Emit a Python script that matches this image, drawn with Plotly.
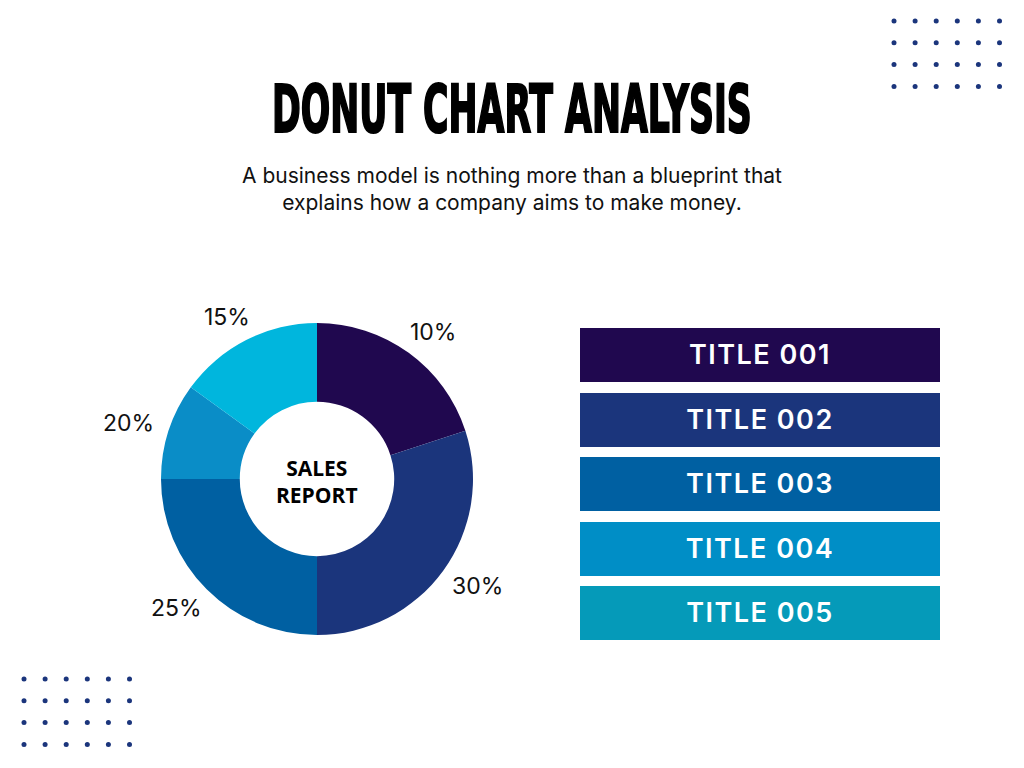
import numpy as np
import plotly.graph_objects as go

# ---------------- data ----------------
slice_names = ["Title 001", "Title 002", "Title 003", "Title 004", "Title 005"]
slice_values = [20, 30, 25, 10, 15]
slice_labels = ["10%", "30%", "25%", "20%", "15%"]
slice_colors = ["#20084f", "#1b357c", "#0060a2", "#0a8dc7", "#00b6dd"]

title_labels = ["TITLE 001", "TITLE 002", "TITLE 003", "TITLE 004", "TITLE 005"]
title_colors = ["#20084f", "#1b357c", "#0060a2", "#008ec6", "#059ab9"]

heading = "DONUT CHART ANALYSIS"
subheading = "A business model is nothing more than a blueprint that<br>explains how a company aims to make money."
center_text = "<b>SALES<br>REPORT</b>"

W, H = 1024, 768
def px(x):
    return x / W
def py(y):
    return 1 - y / H

fig = go.Figure()

# ---------------- donut ----------------
cx, cy, R = 317, 479, 156
fig.add_trace(go.Pie(
    labels=slice_names, values=slice_values, sort=False, direction="clockwise",
    rotation=0, hole=0.495, textinfo="none", hoverinfo="skip",
    marker=dict(colors=slice_colors, line=dict(width=0)),
    domain=dict(x=[px(cx - R), px(cx + R)], y=[py(cy + R), py(cy - R)]),
    showlegend=False,
))

# outside percentage labels at slice mid-angles
total = float(sum(slice_values))
cum = 0.0
label_rx, label_ry = 198, 182
for v, lab in zip(slice_values, slice_labels):
    mid = (cum + v / 2) / total * 2 * np.pi
    cum += v
    lx = cx + label_rx * np.sin(mid)
    ly = cy - label_ry * np.cos(mid)
    fig.add_annotation(x=px(lx), y=py(ly), xref="paper", yref="paper", text=lab,
                       showarrow=False, xanchor="center", yanchor="middle",
                       font=dict(family="Inter, Lato, sans-serif", size=23, color="#111111"))

fig.add_annotation(x=px(cx), y=py(cy + 2), xref="paper", yref="paper", text=center_text,
                   showarrow=False, xanchor="center", yanchor="middle",
                   font=dict(family="Open Sans, sans-serif", size=21, color="#000000"))

# ---------------- title boxes as bars ----------------
pitch = 64.5
bh = 54
top = 328 - (pitch - bh) / 2
bottom = top + pitch * len(title_labels)
fig.add_trace(go.Bar(
    x=[1] * len(title_labels), y=list(range(len(title_labels))), orientation="h",
    width=bh / pitch, marker=dict(color=title_colors, line=dict(width=0)),
    text=title_labels, textposition="inside", insidetextanchor="middle",
    textfont=dict(family="Inter, Open Sans, sans-serif", size=27, color="white", weight=600),
    constraintext="none", hoverinfo="skip", xaxis="x2", yaxis="y2", showlegend=False,
))

# ---------------- decorative dot grids ----------------
def grid(x0, y0, nx, ny, dx, dy):
    xs, ys = np.meshgrid(x0 + dx * np.arange(nx), y0 + dy * np.arange(ny))
    return xs.ravel(), ys.ravel()

for (x0, y0) in [(894, 21), (24, 679)]:
    gx, gy = grid(x0, y0, 6, 4, 21.1, 21.8)
    fig.add_trace(go.Scatter(x=gx, y=gy, mode="markers", xaxis="x3", yaxis="y3",
                             marker=dict(size=5, color="#1b357c"), hoverinfo="skip",
                             showlegend=False))

# ---------------- texts ----------------
fig.add_annotation(x=px(512), y=py(110), xref="paper", yref="paper", text=f"<b>{heading}</b>",
                   showarrow=False, xanchor="center", yanchor="middle",
                   font=dict(family="DejaVu Sans Condensed, DejaVu Sans, sans-serif",
                             size=66, color="#000000"))
fig.add_annotation(x=px(512), y=py(189), xref="paper", yref="paper", text=subheading,
                   showarrow=False, xanchor="center", yanchor="middle",
                   font=dict(family="Inter, sans-serif", size=21, color="#111111"))

fig.update_layout(
    width=W, height=H, margin=dict(l=0, r=0, t=0, b=0),
    paper_bgcolor="white", plot_bgcolor="rgba(0,0,0,0)",
    xaxis2=dict(domain=[px(580), px(940)], range=[0, 1], visible=False, fixedrange=True),
    yaxis2=dict(domain=[py(bottom), py(top)], range=[len(title_labels) - 0.5, -0.5],
                visible=False, fixedrange=True, anchor="x2"),
    xaxis3=dict(domain=[0, 1], range=[0, W], visible=False, fixedrange=True),
    yaxis3=dict(domain=[0, 1], range=[H, 0], visible=False, fixedrange=True, anchor="x3"),
    bargap=0,
)

# condense the heading (poster-style narrow typeface) and letter-space box titles
post_js = """
(function(){
  var gd = document.getElementById('{plot_id}');
  gd.querySelectorAll('text').forEach(function(el){
    if (el.textContent.indexOf('DONUT CHART') === 0) {
      var b = el.getBBox();
      var c = b.x + b.width / 2;
      var sx = 480 / b.width;
      var t = el.getAttribute('transform') || '';
      el.setAttribute('transform', t + ' translate(' + c + ',0) scale(' + sx + ',1) translate(' + (-c) + ',0)');
      el.style.stroke = '#000';
      el.style.strokeWidth = '2.2px';
    }
    if (/^TITLE 00/.test(el.textContent)) {
      el.style.letterSpacing = '1.5px';
    }
  });
})();
"""

fig.write_html("out.html", post_script=post_js)
